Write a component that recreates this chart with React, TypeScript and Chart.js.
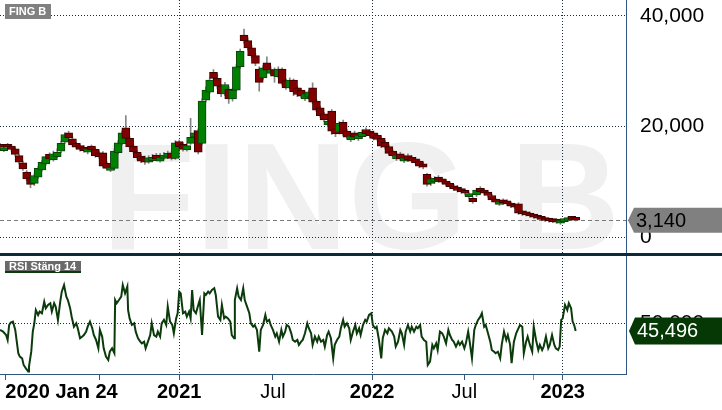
import { useEffect, useRef } from 'react'
import { Chart, registerables } from 'chart.js'

Chart.register(...registerables)

const FONT = 'Arial, "Liberation Sans", sans-serif'

const ticker = 'FING B'
const rsiTitle = 'RSI Stäng 14'

// weekly candles, one every 5 trading days starting 2020 Jan 24
const candleStep = 5
const opens = [
  16.7, 15.7, 16.7, 16.5, 16.0, 14.8, 13.5, 11.8, 10.8, 9.8,
  10.9, 12.2, 13.3, 15.0, 14.0, 14.6, 15.6, 17.2, 18.9, 17.8,
  17.0, 16.6, 16.3, 15.4, 16.5, 15.9, 15.3, 15.3, 13.4, 12.1,
  12.5, 15.3, 16.9, 19.8, 17.9, 16.5, 15.4, 14.7, 14.4, 13.6,
  13.9, 14.9, 13.8, 14.3, 14.5, 15.3, 14.3, 17.3, 16.8, 15.8,
  17.0, 18.1, 19.3, 17.0, 24.8, 26.2, 29.8, 28.7, 27.3, 25.9,
  26.8, 25.0, 26.6, 30.8, 36.5, 35.5, 34.2, 32.8, 30.4, 28.8,
  31.5, 29.6, 30.3, 29.0, 30.4, 28.3, 27.0, 28.4, 27.0, 26.6,
  25.0, 25.3, 27.0, 24.6, 23.4, 22.3, 20.3, 22.8, 19.6, 19.0,
  20.8, 19.2, 17.6, 18.9, 17.8, 18.2, 19.5, 19.2, 18.9, 18.5,
  17.9, 17.2, 16.4, 15.6, 14.2, 15.1, 13.8, 14.8, 14.5, 14.2,
  13.8, 13.3, 11.4, 9.8, 10.1, 10.9, 10.6, 10.2, 9.8, 9.3,
  9.1, 8.8, 8.5, 7.4, 7.1, 7.7, 8.9, 8.6, 8.2, 7.6,
  6.9, 6.0, 6.8, 6.6, 6.2, 6.0, 6.1, 4.7, 4.6, 4.4,
  4.1, 3.9, 3.6, 3.4, 3.3, 3.1, 3.1, 2.6, 2.9, 3.1,
  3.5, 3.4,
]
const highs = [
  17.0, 16.5, 17.0, 16.8, 16.2, 15.0, 13.8, 12.1, 11.0, 11.5,
  12.8, 13.9, 15.0, 15.3, 15.6, 16.0, 17.3, 18.9, 19.2, 18.2,
  17.2, 16.9, 16.6, 16.4, 16.7, 16.2, 15.6, 15.5, 13.7, 13.0,
  16.0, 17.5, 19.2, 22.0, 18.2, 16.8, 15.7, 15.0, 14.7, 14.8,
  15.0, 15.2, 15.2, 15.4, 15.6, 15.6, 17.5, 17.6, 17.1, 17.0,
  21.5, 19.3, 19.6, 25.0, 27.2, 28.8, 30.3, 29.5, 27.6, 28.0,
  27.2, 27.0, 31.2, 34.0, 37.6, 36.0, 34.6, 33.2, 30.8, 31.0,
  32.6, 30.8, 30.6, 30.8, 30.6, 28.6, 28.8, 28.6, 27.3, 26.9,
  26.2, 26.6, 27.9, 24.9, 23.7, 22.6, 21.4, 23.1, 19.9, 20.9,
  21.2, 19.5, 18.7, 19.2, 18.9, 19.4, 19.8, 19.5, 19.2, 18.8,
  18.2, 17.5, 16.7, 15.9, 15.3, 15.4, 14.7, 15.1, 14.8, 14.5,
  14.1, 13.6, 11.6, 10.9, 11.0, 11.2, 10.9, 10.5, 10.0, 9.6,
  9.4, 9.0, 8.7, 8.1, 7.3, 8.9, 9.2, 8.8, 8.5, 7.8,
  7.1, 6.8, 7.0, 6.8, 6.4, 6.2, 6.3, 4.9, 4.8, 4.6,
  4.3, 4.1, 3.8, 3.6, 3.5, 3.3, 3.3, 3.1, 3.4, 3.6,
  3.6, 3.5,
]
const lows = [
  16.0, 15.5, 15.9, 15.6, 14.7, 13.3, 12.1, 10.3, 9.0, 9.4,
  10.7, 12.0, 13.1, 13.9, 13.8, 14.4, 15.3, 17.0, 17.7, 16.4,
  16.0, 15.6, 15.4, 15.1, 15.5, 14.5, 14.3, 12.7, 12.2, 11.9,
  12.3, 15.1, 16.7, 17.6, 16.1, 15.2, 14.1, 13.5, 13.2, 13.4,
  13.7, 13.9, 13.6, 14.1, 14.3, 14.0, 14.1, 16.1, 15.6, 15.6,
  16.8, 17.8, 15.1, 16.8, 24.4, 26.0, 28.0, 26.9, 25.4, 25.6,
  24.2, 24.6, 26.4, 30.5, 35.0, 33.8, 32.4, 31.0, 26.4, 28.5,
  29.8, 29.4, 28.0, 28.8, 27.5, 26.7, 26.8, 25.6, 25.4, 25.2,
  24.7, 25.0, 24.1, 22.7, 21.7, 20.9, 20.0, 18.6, 18.2, 18.7,
  18.4, 17.8, 17.3, 17.8, 17.5, 17.9, 18.4, 18.1, 17.6, 17.4,
  16.2, 16.0, 14.9, 14.5, 13.9, 13.9, 13.5, 13.7, 13.5, 13.2,
  12.6, 12.4, 9.3, 9.4, 9.8, 10.0, 9.7, 9.3, 8.9, 8.5,
  8.2, 8.0, 7.7, 7.1, 6.2, 7.4, 8.0, 7.7, 7.3, 6.5,
  6.1, 5.8, 6.0, 5.8, 5.4, 5.3, 4.2, 4.0, 3.9, 3.7,
  3.5, 3.3, 3.1, 2.9, 2.8, 2.7, 2.6, 2.4, 2.7, 3.0,
  3.2, 3.0,
]
const closes = [
  16.3, 16.1, 16.3, 15.9, 15.0, 13.6, 12.4, 10.6, 9.6, 11.2,
  12.5, 13.6, 14.6, 14.2, 15.1, 15.4, 17.0, 18.6, 18.0, 16.7,
  16.3, 15.9, 15.7, 16.0, 15.8, 14.8, 14.6, 12.9, 12.5, 12.7,
  15.6, 17.1, 18.9, 17.9, 16.4, 15.5, 14.4, 13.8, 13.6, 14.4,
  14.5, 14.2, 14.5, 14.9, 15.2, 14.3, 17.1, 16.4, 15.9, 16.6,
  18.1, 18.9, 15.4, 24.6, 26.6, 28.4, 28.7, 27.3, 25.9, 27.6,
  25.0, 26.6, 30.8, 33.6, 35.5, 34.2, 32.8, 31.4, 28.0, 30.6,
  30.2, 30.3, 29.1, 30.4, 27.8, 27.0, 28.4, 26.3, 25.8, 25.5,
  25.9, 26.3, 24.4, 23.0, 22.0, 21.2, 21.0, 19.2, 18.7, 20.6,
  18.7, 18.1, 18.3, 18.1, 18.5, 19.0, 18.7, 18.4, 17.9, 17.7,
  16.5, 16.3, 15.2, 14.8, 14.9, 14.2, 14.4, 14.0, 13.8, 13.5,
  12.9, 12.7, 9.6, 10.6, 10.7, 10.3, 10.0, 9.6, 9.2, 8.8,
  8.5, 8.3, 8.0, 7.8, 6.5, 8.6, 8.3, 8.0, 7.6, 6.8,
  6.4, 6.5, 6.3, 6.1, 5.7, 5.5, 4.4, 4.3, 4.1, 3.9,
  3.7, 3.5, 3.3, 3.1, 3.0, 2.9, 2.8, 2.9, 3.2, 3.4,
  3.3, 3.14,
]

// RSI (close, 14), trading-day index and value
const rsiDays = [
  0, 4, 8, 10, 12, 14, 17, 20, 22, 24, 26, 29, 31, 34, 37, 38, 41, 43, 45, 47,
  50, 52, 55, 58, 60, 63, 66, 68, 71, 73, 76, 79, 81, 84, 87, 89, 92, 94, 97, 100,
  102, 105, 108, 110, 113, 115, 118, 121, 123, 126, 129, 131, 134, 136, 139, 142, 144, 147, 150, 151,
  153, 156, 159, 161, 164, 167, 168, 170, 173, 176, 178, 181, 184, 186, 189, 191, 194, 197, 199, 202,
  205, 207, 210, 212, 215, 218, 220, 223, 226, 228, 231, 233, 235, 237, 240, 243, 245, 248, 250, 252,
  254, 257, 260, 262, 265, 268, 270, 273, 275, 278, 281, 283, 286, 289, 291, 294, 296, 299, 302, 304,
  307, 308, 311, 313, 316, 319, 321, 324, 327, 329, 332, 334, 337, 340, 342, 345, 348, 350, 353, 355,
  358, 361, 363, 366, 369, 371, 374, 376, 379, 382, 384, 387, 390, 392, 395, 397, 400, 403, 405, 408,
  410, 413, 416, 418, 421, 424, 426, 429, 431, 434, 437, 439, 442, 445, 447, 450, 452, 455, 458, 460,
  463, 466, 468, 471, 473, 476, 479, 481, 484, 487, 489, 492, 494, 497, 500, 502, 505, 508, 510, 514,
  517, 519, 522, 525, 527, 530, 532, 535, 538, 540, 543, 546, 548, 551, 553, 556, 559, 561, 564, 567,
  569, 572, 574, 577, 580, 582, 585, 588, 590, 593, 595, 598, 601, 603, 606, 609, 611, 614, 616, 619,
  622, 624, 627, 630, 632, 635, 637, 640, 643, 645, 648, 650, 653, 656, 658, 661, 664, 666, 669, 671,
  674, 677, 679, 682, 685, 687, 690, 692, 695, 698, 700, 703, 706, 708, 711, 713, 716, 719, 721, 724,
  727, 729, 732, 734, 736, 738, 741, 744, 746, 749, 751, 753, 755,
]
const rsiValues = [
  46.1, 45.1, 43.1, 40.2, 49.0, 50.4, 51.0, 46.1, 39.2, 32.4, 30.4, 29.4, 25.5, 23.5, 21.6, 24.5, 33.3, 45.1, 50.0, 57.8,
  54.9, 56.9, 55.9, 62.7, 58.8, 60.8, 61.8, 56.9, 61.8, 59.8, 52.0, 62.7, 68.6, 72.5, 65.7, 63.7, 58.8, 53.9, 48.0, 50.0,
  47.1, 41.2, 42.2, 43.1, 45.1, 48.0, 51.0, 47.1, 43.1, 40.2, 35.3, 46.1, 42.2, 35.3, 30.4, 28.4, 33.3, 35.3, 32.4, 63.7,
  61.8, 63.7, 65.7, 72.5, 67.6, 71.6, 57.8, 52.9, 49.0, 50.0, 45.1, 41.2, 39.2, 38.2, 39.2, 35.3, 39.2, 43.1, 50.0, 43.1,
  42.2, 45.1, 42.2, 50.0, 52.0, 49.0, 59.8, 51.0, 49.0, 44.1, 52.9, 55.9, 68.6, 67.6, 55.9, 56.9, 53.9, 56.9, 52.9, 69.6,
  57.8, 55.9, 60.8, 63.7, 43.1, 67.6, 66.7, 68.6, 67.6, 69.6, 70.6, 66.7, 53.9, 52.0, 60.8, 52.9, 53.9, 52.9, 51.0, 43.1,
  41.2, 63.7, 70.6, 65.7, 63.7, 70.6, 63.7, 59.8, 55.9, 50.0, 48.0, 49.0, 46.1, 33.3, 46.1, 49.0, 54.9, 51.0, 52.0, 49.0,
  46.1, 42.2, 44.1, 39.2, 46.1, 42.2, 45.1, 49.0, 48.0, 44.1, 40.2, 39.2, 40.2, 37.3, 39.2, 40.2, 44.1, 50.0, 47.1, 44.1,
  37.3, 42.2, 39.2, 42.2, 39.2, 40.2, 36.3, 43.1, 45.1, 41.2, 29.4, 37.3, 40.2, 42.2, 47.1, 52.0, 48.0, 50.0, 47.1, 40.2,
  45.1, 49.0, 44.1, 47.1, 43.1, 49.0, 52.0, 51.0, 54.9, 55.9, 49.0, 47.1, 48.0, 40.2, 29.4, 41.2, 46.1, 44.1, 47.1, 45.1,
  42.2, 36.3, 39.2, 46.1, 44.1, 37.3, 45.1, 49.0, 45.1, 48.0, 45.1, 48.0, 47.1, 49.0, 42.2, 40.2, 39.2, 25.5, 27.5, 37.3,
  35.3, 38.2, 34.3, 45.1, 44.1, 42.2, 38.2, 46.1, 43.1, 40.2, 39.2, 36.3, 39.2, 37.3, 39.2, 35.3, 38.2, 45.1, 39.2, 29.4,
  46.1, 49.0, 52.0, 53.9, 55.9, 48.0, 49.0, 44.1, 39.2, 34.3, 33.3, 32.4, 33.3, 29.4, 37.3, 45.1, 40.2, 43.1, 37.3, 26.5,
  39.2, 44.1, 46.1, 49.0, 48.0, 32.4, 39.2, 42.2, 37.3, 33.3, 48.0, 40.2, 34.3, 37.3, 34.3, 36.3, 42.2, 35.3, 37.3, 43.1,
  37.3, 35.3, 34.3, 36.3, 52.0, 52.9, 60.8, 57.8, 61.8, 58.8, 51.0, 49.0, 45.496,
]

const priceTicks = [0, 20, 40]
const rsiTicks = [50]
const timeTicks = [7, 130, 235, 358, 488, 609, 700, 738, 821]
const timeLabels = ['2020 Jan 24', '', '2021', 'Jul', '2022', 'Jul', '', '2023', '']
const boldTicks = [7, 235, 488, 738]
const yearTicks = [235, 488, 738]
const eventTick = 700

const AXIS = '#2f5580'
const GRID = '#1c2b3a'
const UP = '#008000'
const UP_EDGE = '#0a430a'
const DOWN = '#820000'
const DOWN_EDGE = '#3c0000'
const RSI_LINE = '#0b3a0b'

const fmt = (v: number) => (v === 0 ? '0' : v.toFixed(3).replace('.', ','))

function drawMarker(ctx: CanvasRenderingContext2D, x0: number, x1: number, yc: number, h: number, fill: string, text: string, color: string) {
  ctx.save()
  ctx.fillStyle = fill
  ctx.beginPath()
  ctx.moveTo(x0, yc)
  ctx.lineTo(x0 + 6, yc - h / 2)
  ctx.lineTo(x1, yc - h / 2)
  ctx.lineTo(x1, yc + h / 2)
  ctx.lineTo(x0 + 6, yc + h / 2)
  ctx.closePath()
  ctx.fill()
  ctx.fillStyle = color
  ctx.font = `20px ${FONT}`
  ctx.textAlign = 'left'
  ctx.textBaseline = 'middle'
  ctx.fillText(text, x0 + 8, yc + 1)
  ctx.restore()
}

function drawTag(ctx: CanvasRenderingContext2D, x: number, y: number, w: number, h: number, fill: string, text: string, underline?: string) {
  ctx.save()
  ctx.fillStyle = fill
  ctx.fillRect(x, y, w, h)
  if (underline) {
    ctx.fillStyle = underline
    ctx.fillRect(x, y + h - 2, w, 2)
  }
  ctx.fillStyle = '#ffffff'
  ctx.font = `bold 11px ${FONT}`
  ctx.textAlign = 'left'
  ctx.textBaseline = 'middle'
  ctx.fillText(text, x + 4, y + h / 2)
  ctx.restore()
}

const noPad = (s: any) => {
  s.paddingTop = 0
  s.paddingBottom = 0
  s.paddingLeft = 0
  s.paddingRight = 0
}

const panesPlugin = {
  id: 'panes',
  beforeDraw(chart: any) {
    const { ctx, chartArea, scales } = chart
    const y = scales.y
    ctx.save()
    ctx.beginPath()
    ctx.rect(chartArea.left, y.top, chartArea.right - chartArea.left, y.bottom - y.top)
    ctx.clip()
    ctx.fillStyle = '#f0f0f0'
    ctx.font = `bold 153px ${FONT}`
    ctx.textAlign = 'center'
    ctx.textBaseline = 'alphabetic'
    ctx.fillText(ticker, chart.width / 2, y.bottom - 6)
    ctx.restore()
  },
  beforeDatasetsDraw(chart: any) {
    const { ctx, chartArea, scales } = chart
    const py = Math.round(scales.y.getPixelForValue(closes[closes.length - 1])) + 0.5
    ctx.save()
    ctx.strokeStyle = '#7a7a7a'
    ctx.lineWidth = 1
    ctx.setLineDash([4, 3])
    ctx.beginPath()
    ctx.moveTo(chartArea.left, py)
    ctx.lineTo(chartArea.right, py)
    ctx.stroke()
    ctx.restore()
  },
  afterDraw(chart: any) {
    const { ctx, chartArea, scales } = chart
    const y = scales.y
    const y2 = scales.y2
    // pane separator
    ctx.save()
    ctx.fillStyle = '#0d2a3d'
    ctx.fillRect(0, y.bottom - 2, chart.width, 3)
    ctx.restore()
    drawTag(ctx, 5, 4, 46, 15, '#808080', ticker)
    drawTag(ctx, 5, y2.top + 6, 76, 12, '#6a6a6a', rsiTitle, RSI_LINE)
    const lastPrice = closes[closes.length - 1]
    const lastRsi = rsiValues[rsiValues.length - 1]
    drawMarker(ctx, chartArea.right + 2, chart.width, y.getPixelForValue(lastPrice), 25, '#808080', fmt(lastPrice), '#000000')
    drawMarker(ctx, chartArea.right + 3, chart.width, y2.getPixelForValue(lastRsi), 27, '#053805', fmt(lastRsi), '#ffffff')
  },
}

export default function App() {
  const canvasRef = useRef<HTMLCanvasElement>(null)

  useEffect(() => {
    document.body.style.margin = '0'
    if (!canvasRef.current) return
    const ctx = canvasRef.current.getContext('2d')
    if (!ctx) return

    const wickData = closes.map((_, i) => ({ x: i * candleStep, y: [lows[i], highs[i]] }))
    const bodyData = closes.map((c, i) => ({ x: i * candleStep, y: [opens[i], c] }))
    const rsiData = rsiDays.map((d, i) => ({ x: d, y: rsiValues[i] }))
    const isUp = (i: number) => closes[i] >= opens[i]

    const chart = new Chart(ctx, {
      type: 'bar',
      data: {
        datasets: [
          {
            type: 'line',
            data: rsiData as any,
            yAxisID: 'y2',
            borderColor: RSI_LINE,
            borderWidth: 2,
            pointRadius: 0,
            tension: 0,
            order: 0,
          } as any,
          {
            data: bodyData as any,
            yAxisID: 'y',
            grouped: false,
            barThickness: 8,
            minBarLength: 3,
            borderWidth: 1,
            borderSkipped: false,
            backgroundColor: (c: any) => (isUp(c.dataIndex) ? UP : DOWN),
            borderColor: (c: any) => (isUp(c.dataIndex) ? UP_EDGE : DOWN_EDGE),
            order: 1,
          },
          {
            data: wickData as any,
            yAxisID: 'y',
            grouped: false,
            barThickness: 1,
            backgroundColor: '#858585',
            borderWidth: 0,
            order: 2,
          },
        ],
      },
      options: {
        responsive: false,
        animation: false,
        devicePixelRatio: 1,
        layout: { padding: 0 },
        plugins: { legend: { display: false }, tooltip: { enabled: false } },
        scales: {
          x: {
            type: 'linear',
            min: 0,
            max: 821,
            offset: false,
            afterBuildTicks: (s: any) => {
              s.ticks = timeTicks.map((v) => ({ value: v }))
            },
            afterFit: (s: any) => {
              s.height = 36
              noPad(s)
            },
            ticks: {
              autoSkip: false,
              maxRotation: 0,
              align: 'inner',
              padding: 0,
              color: '#000000',
              callback: (v: any) => timeLabels[timeTicks.indexOf(Number(v))],
              font: (c: any) => ({
                family: FONT,
                size: 20,
                weight: boldTicks.includes(c.tick?.value) ? 'bold' : 'normal',
              }),
            },
            grid: {
              offset: false,
              lineWidth: 1,
              tickLength: 6,
              color: (c: any) => (yearTicks.includes(c.tick?.value) ? GRID : 'rgba(0,0,0,0)'),
              tickColor: (c: any) =>
                c.tick?.value === eventTick ? '#ff5a5a' : c.tick?.value === 821 ? 'rgba(0,0,0,0)' : AXIS,
            },
            border: { color: AXIS, width: 1, dash: [1, 2] },
          },
          y: {
            type: 'linear',
            position: 'right',
            stack: 'panes',
            stackWeight: 255,
            min: -3.12,
            max: 42.83,
            afterBuildTicks: (s: any) => {
              s.ticks = priceTicks.map((v) => ({ value: v }))
            },
            afterFit: (s: any) => {
              s.width = 96
              noPad(s)
            },
            ticks: {
              padding: 14,
              color: '#000000',
              font: { family: FONT, size: 21 },
              callback: (v: any) => fmt(Number(v)),
            },
            grid: { drawTicks: false, color: GRID, lineWidth: 1 },
            border: { color: AXIS, width: 1, dash: [1, 2] },
          },
          y2: {
            type: 'linear',
            position: 'right',
            stack: 'panes',
            stackWeight: 119,
            min: 20.18,
            max: 90.18,
            afterBuildTicks: (s: any) => {
              s.ticks = rsiTicks.map((v) => ({ value: v }))
            },
            afterFit: (s: any) => {
              s.width = 96
              noPad(s)
            },
            ticks: {
              padding: 14,
              color: '#000000',
              font: { family: FONT, size: 21 },
              callback: (v: any) => fmt(Number(v)),
            },
            grid: { drawTicks: false, color: GRID, lineWidth: 1 },
            border: { color: AXIS, width: 1, dash: [1, 2] },
          },
        },
      } as any,
      plugins: [panesPlugin],
    })

    return () => {
      chart.destroy()
    }
  }, [])

  return (
    <div style={{ width: 722, height: 410, background: '#ffffff' }}>
      <canvas ref={canvasRef} width={722} height={410} />
    </div>
  )
}
